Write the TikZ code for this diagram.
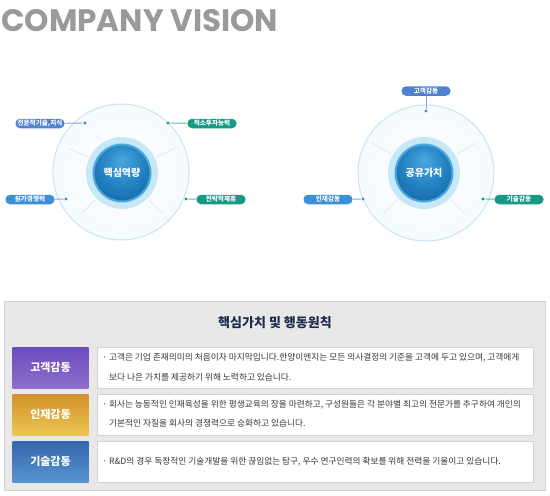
\documentclass[tikz,border=0pt]{standalone}
\usepackage{fontspec}
\setmainfont{Noto Sans CJK KR}
\newfontfamily\titlefont{Poppins}
\usetikzlibrary{positioning}

\definecolor{titlegray}{HTML}{9A9A9A}
\definecolor{haloedge}{HTML}{B9DDF1}
\definecolor{haloin}{HTML}{F4FAFD}
\definecolor{ringlight}{HTML}{C8E8F7}
\definecolor{ringmid}{HTML}{4AA8DE}
\definecolor{corelight}{HTML}{4AA6DE}
\definecolor{coremid}{HTML}{1F7CBD}
\definecolor{coredark}{HTML}{135E9C}
\definecolor{spoke}{HTML}{DDE9EF}
\definecolor{pillblue}{HTML}{4F82CF}
\definecolor{pillsky}{HTML}{3A8FD6}
\definecolor{pillteal}{HTML}{169A84}
\definecolor{panelgray}{HTML}{E8E8E8}
\definecolor{panelline}{HTML}{D2D2D2}
\definecolor{navy}{HTML}{1E2C4C}
\definecolor{bodytext}{HTML}{383838}
\definecolor{purpletop}{HTML}{6A4BBF}
\definecolor{purplebot}{HTML}{8E6FCB}
\definecolor{goldtop}{HTML}{D38F2B}
\definecolor{goldbot}{HTML}{EBC653}
\definecolor{bluetop}{HTML}{3366AE}
\definecolor{bluebot}{HTML}{5B93CF}

\pgfdeclareradialshading{halo}{\pgfpoint{0bp}{0bp}}{color(0bp)=(white); color(28bp)=(haloin); color(40bp)=(haloin); color(47bp)=(haloedge!70); color(50bp)=(haloedge)}
\pgfdeclareradialshading{core}{\pgfpoint{0bp}{12bp}}{color(0bp)=(corelight); color(22bp)=(coremid); color(38bp)=(coredark); color(50bp)=(coredark)}

\begin{document}
\begin{tikzpicture}[x=1pt, y=-1pt,
    halo/.style={circle, minimum size=136pt, inner sep=0pt, shading=halo, draw=haloedge!80, line width=1pt},
    ring/.style={circle, minimum size=72pt, inner sep=0pt, fill=ringlight},
    core/.style={circle, minimum size=57pt, inner sep=0pt, shading=core, draw=ringmid, line width=2pt,
      text=white, font=\fontsize{10}{12}\selectfont\bfseries},
    pill/.style={rounded corners=4.5pt, minimum width=49pt, minimum height=9.5pt, inner sep=0pt,
      text=white, font=\fontsize{6.6}{7}\selectfont\bfseries},
    dot/.style={circle, inner sep=0pt, minimum size=3.2pt},
    tie/.style={line width=0.9pt},
    spokeline/.style={spoke, line width=0.8pt},
    tag/.style={minimum width=76pt, minimum height=41pt, inner sep=0pt, text=white,
      font=\fontsize{11}{13}\selectfont\bfseries},
    textbox/.style={fill=white, draw=panelline, line width=0.5pt, minimum width=436pt, minimum height=41pt, inner sep=0pt},
    line/.style={anchor=west, inner sep=0pt, text=bodytext, font=\fontsize{8.7}{10}\selectfont}]
  \useasboundingbox (0,0) rectangle (550,496);

  \node[anchor=west, inner sep=0pt, text=titlegray, font=\titlefont\fontsize{31}{31}\selectfont\bfseries] at (1,21) (title) {COMPANY VISION};

  % left circle
  \node[halo] at (121,172) (haloA) {};
  \node[ring] at (122,173) (ringA) {};
  \draw[spokeline] (122,173) ++(135:38) -- ++(135:20);
  \draw[spokeline] (122,173) ++(45:38) -- ++(45:20);
  \draw[spokeline] (122,173) ++(205:38) -- ++(205:20);
  \draw[spokeline] (122,173) ++(-25:38) -- ++(-25:22);
  \node[core] at (122,173) (coreA) {핵심역량};

  \node[dot, fill=pillblue] at (85,123) (dA1) {};
  \node[dot, fill=pillteal] at (168,123) (dA2) {};
  \node[dot, fill=pillsky] at (66,199) (dA3) {};
  \node[dot, fill=pillteal] at (186,199) (dA4) {};

  \node[pill, fill=pillblue] at (40,123.5) (pA1) {전문적기술,지식};
  \node[pill, fill=pillteal] at (212,123.5) (pA2) {적소투자능력};
  \node[pill, fill=pillsky] at (30,199.5) (pA3) {원가경쟁력};
  \node[pill, fill=pillteal] at (221,199.5) (pA4) {전략적제휴};

  \draw[tie, pillblue!70] (pA1) -- (dA1);
  \draw[tie, pillteal!70] (pA2) -- (dA2);
  \draw[tie, pillsky!70] (pA3) -- (dA3);
  \draw[tie, pillteal!70] (pA4) -- (dA4);

  % right circle
  \node[halo] at (426,173) (haloB) {};
  \node[ring] at (424,173) (ringB) {};
  \draw[spokeline] (424,173) ++(135:38) -- ++(135:20);
  \draw[spokeline] (424,173) ++(45:38) -- ++(45:20);
  \draw[spokeline] (424,173) ++(210:38) -- ++(210:22);
  \draw[spokeline] (424,173) ++(-30:38) -- ++(-30:22);
  \node[core] at (424,173) (coreB) {공유가치};

  \node[dot, fill=pillblue] at (426,111) (dB1) {};
  \node[dot, fill=pillsky] at (363,199) (dB2) {};
  \node[dot, fill=pillteal] at (483,199) (dB3) {};

  \node[pill, fill=pillblue] at (426,91) (pB1) {고객감동};
  \node[pill, fill=pillsky] at (328,199.5) (pB2) {인재감동};
  \node[pill, fill=pillteal] at (519,199.5) (pB3) {기술감동};

  \draw[tie, pillblue!70] (pB1) -- (dB1);
  \draw[tie, pillsky!70] (pB2) -- (dB2);
  \draw[tie, pillteal!70] (pB3) -- (dB3);

  % panel
  \node[fill=panelgray, draw=panelline, line width=0.8pt, minimum width=541pt, minimum height=189pt, inner sep=0pt] at (274.5,395.5) (panel) {};
  \node[text=navy, font=\fontsize{13}{15}\selectfont\bfseries] at (275,323) (head) {핵심가치 및 행동원칙};

  \node[tag, top color=purpletop, bottom color=purplebot] at (50.5,367.5) (tag1) {고객감동};
  \node[tag, top color=goldtop, bottom color=goldbot] at (50.5,414.5) (tag2) {인재감동};
  \node[tag, top color=bluetop, bottom color=bluebot] at (50.5,461.5) (tag3) {기술감동};

  \node[textbox] at (315,367.5) (box1) {};
  \node[textbox] at (315,414.5) (box2) {};
  \node[textbox] at (315,461.5) (box3) {};

  \node[line] at (102,357.5) (l11) {· 고객은 기업 존재의미의 처음이자 마지막입니다.한양이엔지는 모든 의사결정의 기준을 고객에 두고 있으며, 고객에게};
  \node[line] at (109,377) (l12) {보다 나은 가치를 제공하기 위해 노력하고 있습니다.};
  \node[line] at (102,405) (l21) {· 회사는 능동적인 인재육성을 위한 평생교육의 장을 마련하고, 구성원들은 각 분야별 최고의 전문가를 추구하여 개인의};
  \node[line] at (109,423) (l22) {기본적인 자질을 회사의 경쟁력으로 승화하고 있습니다.};
  \node[line] at (102,461.5) (l31) {· R\&D의 경우 독창적인 기술개발을 위한 끊임없는 탐구, 우수 연구인력의 확보를 위해 전력을 기울이고 있습니다.};
\end{tikzpicture}
\end{document}
